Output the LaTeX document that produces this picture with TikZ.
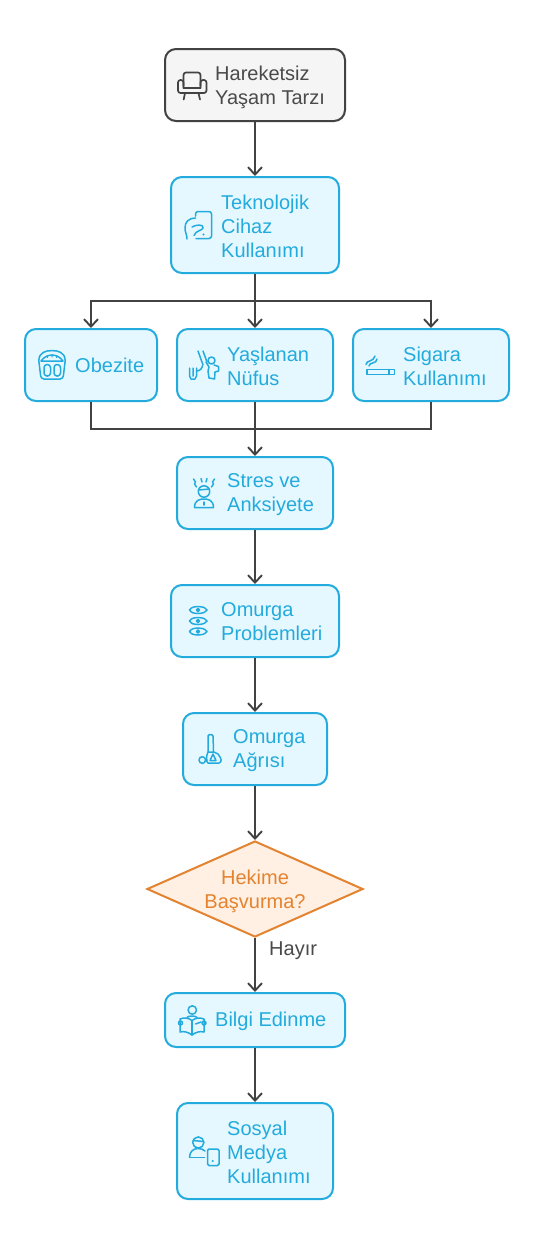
\documentclass[tikz,border=0pt]{standalone}
\usepackage{fontspec}
\setmainfont{Liberation Sans}
\usetikzlibrary{arrows.meta,shapes.geometric}
\definecolor{bl}{HTML}{22ABDC}
\definecolor{blf}{HTML}{E6F8FF}
\definecolor{gy}{HTML}{424242}
\definecolor{gyt}{HTML}{4A4A4A}
\definecolor{gyf}{HTML}{F5F5F5}
\definecolor{or}{HTML}{E38330}
\definecolor{orf}{HTML}{FFF0E3}
\tikzset{
 bluebox/.style={draw=bl,fill=blf,line width=2pt,rounded corners=11pt,inner sep=0pt},
 graybox/.style={draw=gy,fill=gyf,line width=2pt,rounded corners=11pt,inner sep=0pt},
 lab/.style={anchor=west,inner sep=0pt,align=left,font=\fontsize{20}{24}\selectfont},
 bluetext/.style={lab,text=bl},
 conn/.style={draw=gy,line width=1.9pt,-{Straight Barb[length=7.5pt,width=14pt,line width=1.9pt]}},
 plainconn/.style={draw=gy,line width=1.9pt},
 ico/.style={draw=bl,line width=1.5pt,line cap=round,line join=round},
 icog/.style={draw=gy,line width=1.7pt,line cap=round,line join=round},
}
\newcommand{\bx}[6]{\node[#1,minimum width=#4pt,minimum height=#5pt] (#6) at (#2,#3) {};}
\begin{document}
\begin{tikzpicture}[x=1pt,y=-1pt]
\useasboundingbox (0,0) rectangle (534,1248);
\fill[white] (0,0) rectangle (534,1248);
% boxes
\bx{graybox}{255}{85}{180}{72}{A}
\bx{bluebox}{255}{225}{168}{96}{B}
\bx{bluebox}{91}{365}{132}{72}{Ca}
\bx{bluebox}{255}{365}{156}{72}{Cb}
\bx{bluebox}{431}{365}{156}{72}{Cc}
\bx{bluebox}{255}{493}{156}{72}{D}
\bx{bluebox}{255}{621}{168}{72}{E}
\bx{bluebox}{255}{749}{144}{72}{F}
\node[diamond,aspect=2.25,draw=or,fill=orf,line width=2pt,minimum width=216pt,minimum height=96pt,inner sep=0pt] (G) at (255,889) {};
\bx{bluebox}{255}{1020}{180}{54}{H}
\bx{bluebox}{255}{1151}{156}{96}{I}
% junction points
\coordinate (top) at (255,301);
\coordinate (topl) at (91,301);
\coordinate (topr) at (431,301);
\coordinate (botl) at (91,429);
\coordinate (botr) at (431,429);
% connectors
\draw[conn] (A.south) -- (B.north);
\draw[conn] (B.south) -- (Cb.north);
\draw[conn] (top) -- (topl) -- (Ca.north);
\draw[conn] (top) -- (topr) -- (Cc.north);
\draw[plainconn] (Ca.south) -- (botl) -- (botr) -- (Cc.south);
\draw[conn] (Cb.south) -- (D.north);
\draw[conn] (D.south) -- (E.north);
\draw[conn] (E.south) -- (F.north);
\draw[conn] (F.south) -- (G.north);
\draw[conn] (G.south) -- (H.north);
\draw[conn] (H.south) -- (I.north);
% labels
\node[lab,text=gyt] (tA) at (215,87) {Hareketsiz\\Yaşam Tarzı};
\node[bluetext] (tB) at (221,226) {Teknolojik\\Cihaz\\Kullanımı};
\node[bluetext] (tCa) at (75,365) {Obezite};
\node[bluetext] (tCb) at (227,366) {Yaşlanan\\Nüfus};
\node[bluetext] (tCc) at (403,366) {Sigara\\Kullanımı};
\node[bluetext] (tD) at (227,495) {Stres ve\\Anksiyete};
\node[bluetext] (tE) at (221,622) {Omurga\\Problemleri};
\node[bluetext] (tF) at (233,751) {Omurga\\Ağrısı};
\node[lab,text=or,align=center,anchor=center] (tG) at (255,891) {Hekime\\Başvurma?};
\node[lab,text=gyt] (tH) at (269,951) {Hayır};
\node[bluetext] (tHb) at (215,1021) {Bilgi Edinme};
\node[bluetext] (tI) at (227,1152) {Sosyal\\Medya\\Kullanımı};
% icon: armchair
\draw[icog,rounded corners=2.5pt] (183.5,86) -- (183.5,72.5) -- (200.5,72.5) -- (200.5,86);
\draw[icog] (183.5,88) -- (200.5,88);
\draw[icog,rounded corners=2.5pt] (183.5,88) -- (183.5,80) -- (178,80) -- (178,93) -- (206.5,93) -- (206.5,80) -- (200.5,80) -- (200.5,88);
\draw[icog] (185,93) -- (183.7,99.5) (198.5,93) -- (200,99.5);
% icon: phone in hand
\draw[ico,rounded corners=2.5pt] (195.5,216) -- (195.5,211.5) -- (211.5,211.5) -- (211.5,238.5) -- (196,238.5);
\draw[ico] (195.5,218) .. controls (188,218.5) and (185,222) .. (185,228) .. controls (185,233) and (187,234) .. (187,239);
\draw[ico] (192,227) .. controls (196,224.5) and (204,224) .. (203,228) .. controls (202,231) and (196,230) .. (194,235.5);
\fill[bl] (203.5,234.5) circle (1.1pt);
% icon: scale
\draw[ico,rounded corners=3pt] (41,354) .. controls (47,350) and (57,350) .. (63,354) -- (65.5,358) -- (63,379) -- (41,379) -- (38.5,358) -- cycle;
\draw[ico] (41,361) .. controls (47,353) and (57,353) .. (63,361) -- cycle;
\draw[ico,rounded corners=3pt] (44,364.5) rectangle (50.5,376);
\draw[ico,rounded corners=3pt] (54,364.5) rectangle (60.5,376);
\draw[ico,line width=1pt] (47,355.5) -- (47.5,357.5) (52,354.5) -- (52,357) (57,355.5) -- (56.5,357.5);
% icon: aging
\draw[ico] (198,351) -- (202.5,363.5) (203,351) -- (207,362);
\draw[ico] (189.5,368) -- (189.5,376) -- (191,379) -- (195,379) -- (196.5,376) -- (196.5,368) (193,368) -- (193,376);
\draw[ico] (196.5,371) .. controls (200,371) and (202,369) .. (203,364);
\draw[ico] (211.5,360.5) circle (3.5pt);
\draw[ico] (206,362) -- (209,367) -- (208,371) -- (209,378) -- (214.5,379) -- (215,372) -- (218.5,371) -- (218.5,366.5) -- (214,365);
% icon: cigarette
\draw[ico] (367,369.5) rectangle (394.5,374.5);
\draw[ico] (389,369.5) -- (389,374.5);
\draw[ico] (366,364.5) .. controls (366,360) and (374,362) .. (375,356);
\draw[ico] (369,366) .. controls (369,362) and (377,364) .. (377,359);
% icon: stress
\draw[ico] (204,491.5) circle (5.7pt);
\draw[ico] (198.5,490) -- (209.5,489);
\draw[ico] (194.5,507.5) .. controls (194.5,500) and (200,499) .. (204,499) .. controls (208,499) and (213.5,500) .. (213.5,507.5) -- cycle;
\draw[ico] (204,502) -- (204,505);
\draw[ico] (193.5,479) -- (195.5,482) -- (194.5,484) -- (196.5,487);
\draw[ico] (214.5,479) -- (212.5,482) -- (213.5,484) -- (211.5,487);
\draw[ico] (201,478.5) -- (202,482) (207,478.5) -- (206,482);
% icon: spine
\foreach \yy in {610,621,631.5}{
 \draw[ico] (189.5,\yy) .. controls (192,\yy-3.5) and (194,\yy-3) .. (198,\yy-3.5) .. controls (202,\yy-3) and (204,\yy-3.5) .. (207,\yy) .. controls (204,\yy+3.5) and (202,\yy+3) .. (198,\yy+3.5) .. controls (194,\yy+3) and (192,\yy+3.5) .. (189.5,\yy) -- cycle;
 \draw[ico] (198,\yy) circle (1.5pt);
}
% icon: back pain
\draw[ico,rounded corners=1.5pt] (208,752) -- (208,734.5) -- (213,734.5) -- (213.5,752);
\draw[ico] (208,752) .. controls (206,756) and (206,762) .. (208,763) -- (219,763) .. controls (222,762) and (222,759) .. (218,754) -- (214,752) -- cycle;
\draw[ico] (202.3,760) circle (3.3pt);
\draw[ico] (205.6,760) -- (207,760);
\draw[ico] (213,754) -- (216,760.5) -- (210,760.5) -- cycle;
% icon: reader
\draw[ico] (192.3,1010) circle (4.2pt);
\draw[ico] (192,1020.5) .. controls (188,1017.5) and (184,1017.5) .. (180,1019) -- (180,1032) .. controls (184,1031) and (188,1032) .. (192,1035) .. controls (196,1032) and (200,1031) .. (204,1032) -- (204,1019) .. controls (200,1017.5) and (196,1017.5) .. (192,1020.5) -- cycle;
\draw[ico] (192,1020.5) -- (192,1035);
\draw[ico] (180.5,1023) circle (2pt) (204,1023) circle (2pt);
\draw[ico] (195.5,1024) -- (201,1022);
\draw[ico] (187,1017.5) .. controls (188,1015.5) and (196,1015.5) .. (197,1017.5);
% icon: social
\draw[ico] (198.3,1142.5) circle (5.6pt);
\draw[ico] (193,1140.5) -- (203.5,1141.5);
\draw[ico] (189.5,1157.5) .. controls (189.5,1151) and (194,1148.5) .. (198,1148.5) .. controls (201,1148.5) and (203.5,1149.5) .. (205,1151);
\draw[ico] (189.5,1157.5) -- (204.5,1157.5);
\draw[ico,rounded corners=1.5pt] (207.5,1149) rectangle (219,1165.5);
\fill[bl] (212.8,1161) circle (1.1pt);
\end{tikzpicture}
\end{document}
